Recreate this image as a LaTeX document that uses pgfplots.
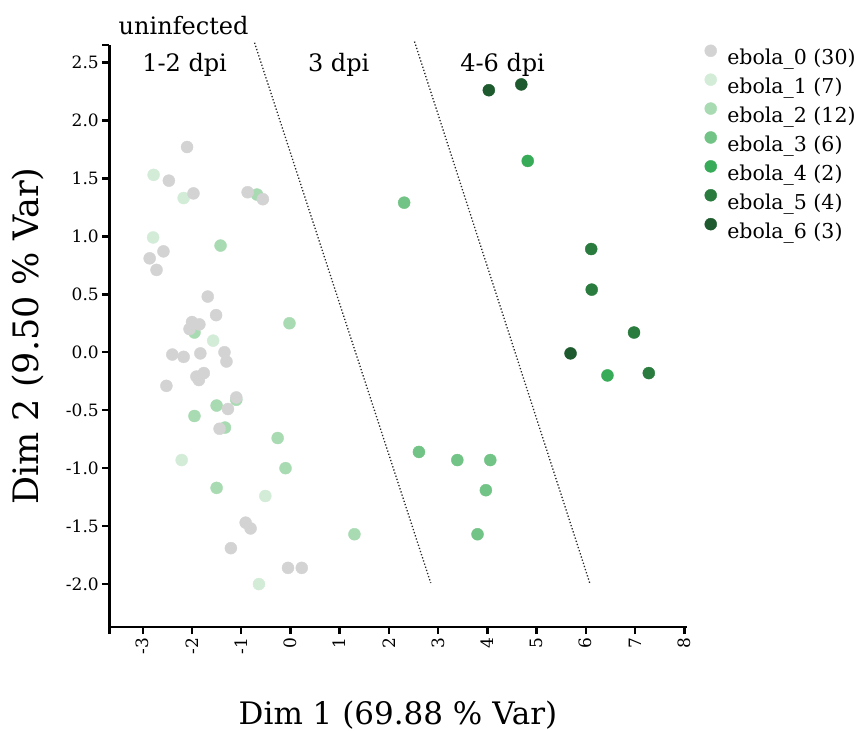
\documentclass[border=0pt]{standalone}
\usepackage{fontspec}
\setmainfont{DejaVu Serif}
\usepackage{pgfplots}
\pgfplotsset{compat=1.18}

\definecolor{ebzero}{HTML}{D3D3D3}
\definecolor{ebone}{HTML}{D3ECD8}
\definecolor{ebtwo}{HTML}{A9DBB3}
\definecolor{ebthree}{HTML}{72C386}
\definecolor{ebfour}{HTML}{38AB58}
\definecolor{ebfive}{HTML}{2A7B3E}
\definecolor{ebsix}{HTML}{1D5A2D}

\newcommand{\tickfont}{\fontsize{17}{17}\selectfont}
\pgfplotsset{pt/.style={only marks, mark=*, mark size=6pt, color=#1}}

\begin{document}
\begin{tikzpicture}
\begin{axis}[
  scale only axis,
  width=577.4pt, height=582pt,
  xmin=-3.68, xmax=8.05, ymin=-2.37, ymax=2.65,
  enlargelimits=false,
  clip=false,
  axis lines=left,
  axis line style={-, line width=2.5pt, black},
  tick align=outside,
  major tick length=7pt,
  major tick style={line width=2.5pt, black},
  xtick={-3,-2,-1,0,1,2,3,4,5,6,7,8},
  ytick={-2,-1.5,-1,-0.5,0,0.5,1,1.5,2,2.5},
  extra x ticks={-3.68}, extra x tick labels={},
  extra y ticks={2.65}, extra y tick labels={},
  /pgf/number format/assume math mode=true,
  xticklabel={\tickfont\pgfmathprintnumber{\tick}},
  yticklabel={\tickfont\pgfmathprintnumber[fixed,fixed zerofill,precision=1]{\tick}},
  xticklabel style={rotate=90, anchor=east},
  xlabel={Dim 1 (69.88 \% Var)},
  ylabel={Dim 2 (9.50 \% Var)},
  every axis x label/.style={at={(axis description cs:0.5,-0.168)}, anchor=base, font=\fontsize{31}{31}\selectfont},
  every axis y label/.style={at={(axis description cs:-0.122,0.5)}, anchor=base, rotate=90, font=\fontsize{35}{35}\selectfont},
  reverse legend,
  legend cell align=left,
  legend style={at={(rel axis cs:1.0312,1.0022)}, anchor=north west, draw=none, fill=none,
    inner sep=0pt, outer sep=0pt, row sep=0pt,
    font=\fontsize{20.5}{24}\selectfont,
    nodes={inner sep=0pt, text height=21pt, text depth=7.9pt},
    /tikz/every even column/.append style={column sep=0pt}},
  legend image code/.code={
    \path[draw=none, fill=none] (0pt,0pt) rectangle (22.6pt,12pt);
    \draw[mark repeat=2,mark phase=2,mark size=6pt] plot coordinates {(0pt,7.4pt)(6pt,7.4pt)(12pt,7.4pt)};
  },
]

% dotted separators between groups
\addplot[mark=none, dotted, line width=1.3pt, black!85, forget plot] coordinates {(-0.73,2.67) (2.85,-1.99)};
\addplot[mark=none, dotted, line width=1.3pt, black!85, forget plot] coordinates {(2.52,2.68) (6.08,-1.99)};

% ebola_6
\addplot[pt=ebsix] coordinates {
  (4.03,2.26) (4.69,2.31) (5.69,-0.01)
};
\addlegendentry{ebola\_6 (3)}
% ebola_5
\addplot[pt=ebfive] coordinates {
  (6.11,0.89) (6.12,0.54) (6.98,0.17) (7.28,-0.18)
};
\addlegendentry{ebola\_5 (4)}
% ebola_4
\addplot[pt=ebfour] coordinates {
  (4.82,1.65) (6.44,-0.20)
};
\addlegendentry{ebola\_4 (2)}
% ebola_3
\addplot[pt=ebthree] coordinates {
  (2.31,1.29) (2.61,-0.86) (3.39,-0.93) (4.06,-0.93) (3.97,-1.19) (3.80,-1.57)
};
\addlegendentry{ebola\_3 (6)}
% ebola_2
\addplot[pt=ebtwo] coordinates {
  (-0.68,1.36) (-1.42,0.92) (-1.95,0.17) (-1.10,-0.41) (-1.50,-0.46) (-1.95,-0.55)
  (-1.33,-0.65) (-0.02,0.25) (-0.26,-0.74) (-0.10,-1.00) (-1.50,-1.17) (1.30,-1.57)
};
\addlegendentry{ebola\_2 (12)}
% ebola_1
\addplot[pt=ebone] coordinates {
  (-2.78,1.53) (-2.17,1.33) (-2.79,0.99) (-1.57,0.10) (-2.21,-0.93) (-0.51,-1.24) (-0.64,-2.00)
};
\addlegendentry{ebola\_1 (7)}
% ebola_0
\addplot[pt=ebzero] coordinates {
  (-2.10,1.77) (-2.47,1.48) (-1.97,1.37) (-0.87,1.38) (-0.56,1.32)
  (-2.58,0.87) (-2.86,0.81) (-2.72,0.71) (-1.68,0.48) (-1.51,0.32)
  (-2.00,0.26) (-1.85,0.24) (-2.05,0.20) (-2.40,-0.02) (-2.17,-0.04)
  (-1.83,-0.01) (-1.34,0.00) (-1.30,-0.08) (-1.76,-0.18) (-1.91,-0.21)
  (-1.86,-0.24) (-2.52,-0.29) (-1.10,-0.39) (-1.27,-0.49) (-1.44,-0.66)
  (-0.91,-1.47) (-0.81,-1.52) (-1.21,-1.69) (-0.05,-1.86) (0.23,-1.86)
};
\addlegendentry{ebola\_0 (30)}

\node[anchor=base, font=\fontsize{24}{24}\selectfont] at (axis cs:-2.17,2.74) {uninfected};
\node[anchor=base, font=\fontsize{24}{24}\selectfont] at (axis cs:-2.15,2.42) {1-2 dpi};
\node[anchor=base, font=\fontsize{24}{24}\selectfont] at (axis cs:0.98,2.42) {3 dpi};
\node[anchor=base, font=\fontsize{24}{24}\selectfont] at (axis cs:4.31,2.42) {4-6 dpi};

\coordinate (ll) at (rel axis cs:0,0);
\coordinate (ur) at (rel axis cs:1,1);
\end{axis}
\pgfresetboundingbox
\path[use as bounding box] ([xshift=-109.3pt,yshift=-104pt]ll) rectangle ([xshift=173.3pt,yshift=45pt]ur);
\end{tikzpicture}
\end{document}
